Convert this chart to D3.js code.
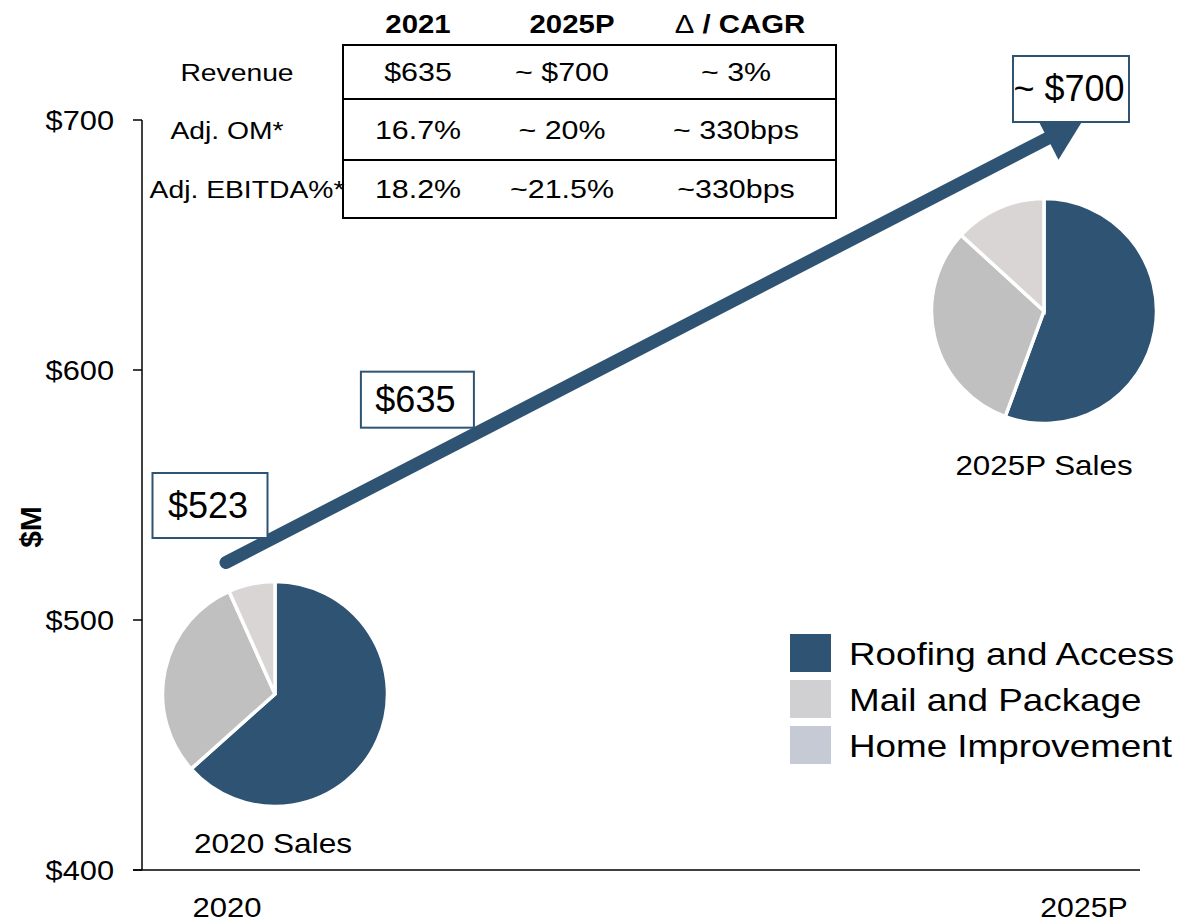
<!DOCTYPE html>
<html>
<head>
<meta charset="utf-8">
<script src="https://cdn.jsdelivr.net/npm/d3@7"></script>
<style>
  body { margin: 0; background: #fff; }
  text { font-family: "Liberation Sans", Arial, sans-serif; fill: #000; }
</style>
</head>
<body>
<div id="chart"></div>
<script>
// data
const years = [2020, 2021, 2025];
const yearLabels = ["2020", "2025P"];
const revenue = [523, 635, 700];
const revenueLabels = ["$523", "$635", "~ $700"];
const yTicks = [400, 500, 600, 700];

const segments = ["Roofing and Access", "Mail and Package", "Home Improvement"];
const sales2020 = [63.4, 29.9, 6.7];
const sales2025 = [55.6, 31.2, 13.2];

const tableCols = ["2021", "2025P", "\u0394 / CAGR"];
const tableRows = ["Revenue", "Adj. OM*", "Adj. EBITDA%*"];
const tableCells = [
    ["$635", "~ $700", "~ 3%"],
    ["16.7%", "~ 20%", "~ 330bps"],
    ["18.2%", "~21.5%", "~330bps"]
];

// set up
const width = 1183, height = 924;
const navy = "#2f5473";
const pieColors = [navy, "#c0c0c0", "#d9d5d4"];
const legendColors = [navy, "#d0d0d3", "#c6cad4"];

const svg = d3.select("#chart").append("svg")
    .attr("width", width)
    .attr("height", height);

const x = d3.scaleLinear().domain([2020, 2025]).range([226, 1083]);
const y = d3.scaleLinear().domain([400, 700]).range([870, 120]);

// text with a little horizontal stretch, like the original
function label(parent, tx, ty, s, size, opts = {}) {
    const sx = opts.sx || 1;
    return parent.append("text")
        .attr("transform", `translate(${tx},${ty}) scale(${sx},1)`)
        .attr("text-anchor", opts.anchor || "middle")
        .attr("font-size", size)
        .attr("font-weight", opts.bold ? "bold" : "normal")
        .text(s);
}

// axes
svg.append("line")
    .attr("x1", 142).attr("x2", 142)
    .attr("y1", y(700)).attr("y2", y(400))
    .attr("stroke", "#000").attr("stroke-width", 1.5);
svg.append("line")
    .attr("x1", 133).attr("x2", 1140)
    .attr("y1", y(400)).attr("y2", y(400))
    .attr("stroke", "#000").attr("stroke-width", 1.5);

yTicks.forEach(t => {
    svg.append("line")
        .attr("x1", 133).attr("x2", 142)
        .attr("y1", y(t)).attr("y2", y(t))
        .attr("stroke", "#000").attr("stroke-width", 1.5);
    label(svg, 114, y(t) + 10, "$" + t, 28, { anchor: "end", sx: 1.1 });
});

label(svg, 0, 0, "$M", 30, { bold: true })
    .attr("transform", "translate(41,527) rotate(-90)");

label(svg, x(2020) + 1, 917, yearLabels[0], 27, { sx: 1.15 });
label(svg, x(2025) + 1, 917, yearLabels[1], 27, { sx: 1.12 });

// table
const tbl = { left: 343, right: 836, top: 45, rowH: [54, 61, 58] };
const colX = [418, 562, 736];
const rowLabelX = [237, 227, 247];
let rowTops = [tbl.top];
tbl.rowH.forEach(h => rowTops.push(rowTops[rowTops.length - 1] + h));

svg.append("rect")
    .attr("x", tbl.left).attr("y", tbl.top)
    .attr("width", tbl.right - tbl.left)
    .attr("height", rowTops[3] - tbl.top)
    .attr("fill", "none").attr("stroke", "#000").attr("stroke-width", 2);
[1, 2].forEach(i => {
    svg.append("line")
        .attr("x1", tbl.left).attr("x2", tbl.right)
        .attr("y1", rowTops[i]).attr("y2", rowTops[i])
        .attr("stroke", "#000").attr("stroke-width", 2);
});

tableCols.forEach((c, j) => {
    const t = label(svg, colX[j] + (j === 1 ? 10 : j === 2 ? 4 : 0), 33, "", 26, { bold: true, sx: 1.13 });
    if (c.startsWith("\u0394")) {
        t.append("tspan").attr("font-weight", "normal").text("\u0394");
        t.append("tspan").text(c.slice(1));
    } else {
        t.text(c);
    }
});
tableRows.forEach((r, i) => {
    const base = (rowTops[i] + rowTops[i + 1]) / 2 + 9;
    label(svg, rowLabelX[i], base, r, 23, { sx: 1.23 });
    tableCells[i].forEach((v, j) => {
        label(svg, colX[j], base, v, 26, { sx: 1.17 });
    });
});

// growth arrow, 2020 -> 2025P
const p0 = [x(years[0]), y(revenue[0])];
const p1 = [x(years[2]), y(revenue[2])];
const dx = p1[0] - p0[0], dy = p1[1] - p0[1];
const len = Math.hypot(dx, dy);
const ux = dx / len, uy = dy / len;
const headL = 40, headW = 24;
const base = [p1[0] - ux * headL, p1[1] - uy * headL];

svg.append("line")
    .attr("x1", p0[0]).attr("y1", p0[1])
    .attr("x2", base[0] + ux * 2).attr("y2", base[1] + uy * 2)
    .attr("stroke", navy).attr("stroke-width", 13)
    .attr("stroke-linecap", "round");
svg.append("path")
    .attr("d", d3.line()([
        p1,
        [base[0] - uy * headW, base[1] + ux * headW],
        [base[0] + uy * headW, base[1] - ux * headW]
    ]) + "Z")
    .attr("fill", navy);

// value boxes
const boxes = [
    { i: 0, dx: -16, dy: -57, w: 115, h: 65 },
    { i: 1, dx: 20, dy: 0, w: 113, h: 56 },
    { i: 2, dx: -12, dy: -31, w: 116, h: 66 }
];
boxes.forEach(b => {
    const bx = x(years[b.i]) + b.dx;
    // box for 2021 sits above the arrow line
    const by = b.i === 1
        ? p0[1] + (bx - p0[0]) * dy / dx - 64
        : y(revenue[b.i]) + b.dy;
    svg.append("rect")
        .attr("x", bx - b.w / 2).attr("y", by - b.h / 2)
        .attr("width", b.w).attr("height", b.h)
        .attr("fill", "#fff").attr("stroke", navy).attr("stroke-width", 2);
    label(svg, bx - 2, by + 12, revenueLabels[b.i], 36);
});

// pies
const pie = d3.pie().sort(null).value(d => d);
const arc = d3.arc().innerRadius(0).outerRadius(112.5);

function drawPie(vals, cx, cy) {
    const g = svg.append("g").attr("transform", `translate(${cx},${cy})`);
    g.selectAll("path")
        .data(pie(vals))
        .enter().append("path")
        .attr("d", arc)
        .attr("fill", (d, i) => pieColors[i])
        .attr("stroke", "#fff")
        .attr("stroke-width", 3.5);
    return g;
}
drawPie(sales2020, x(2020) + 49, y(470.4));
label(svg, x(2020) + 47, 853, "2020 Sales", 28, { sx: 1.13 });
drawPie(sales2025, x(2025) - 39, y(623.6));
label(svg, x(2025) - 39, 475, "2025P Sales", 28, { sx: 1.12 });

// legend
const legend = svg.append("g").attr("transform", "translate(790,634)");
segments.forEach((s, i) => {
    legend.append("rect")
        .attr("x", 0).attr("y", i * 46)
        .attr("width", 41).attr("height", 38)
        .attr("fill", legendColors[i]);
    label(legend, 59, i * 46 + 31, s, 32, { anchor: "start", sx: 1.15 });
});
</script>
</body>
</html>
